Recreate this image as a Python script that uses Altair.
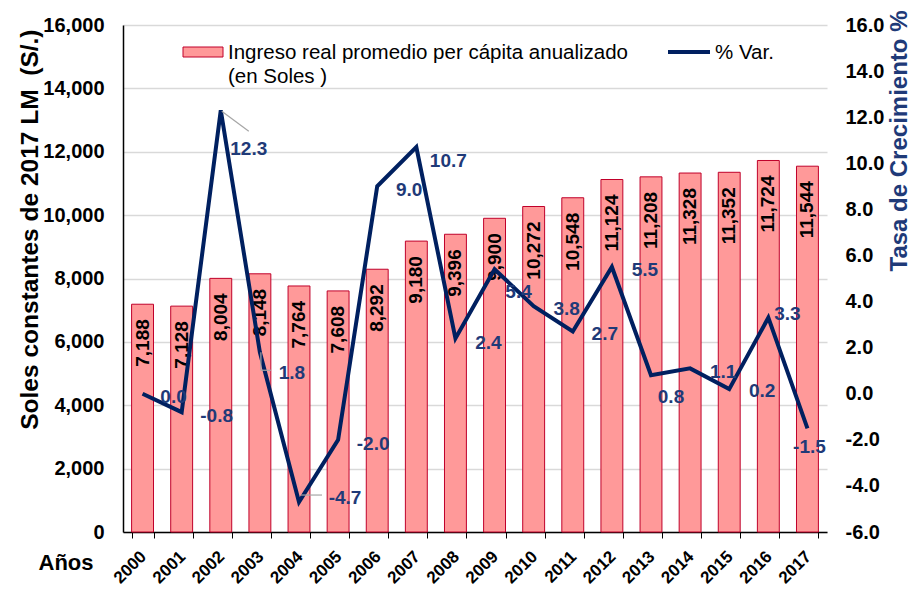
import altair as alt
import pandas as pd

# ---------------- data ----------------
years = [str(y) for y in range(2000, 2018)]
ingreso = [7188, 7128, 8004, 8148, 7764, 7608, 8292, 9180, 9396, 9900,
           10272, 10548, 11124, 11208, 11328, 11352, 11724, 11544]
variacion = [0.0, -0.8, 12.3, 1.8, -4.7, -2.0, 9.0, 10.7, 2.4, 5.4,
             3.8, 2.7, 5.5, 0.8, 1.1, 0.2, 3.3, -1.5]

# label placement (pixel offsets of the % labels from their points)
lbl_dx = [31, 35, 28, 32, 46, 35, 32, 32, 33, 24, 33, 32, 33, 20, 33, 33, 19, 2]
lbl_dy = [3, 4, 39, 21, -4, 4, 4, 14, 5, 23, 3, 2, 3, 22, 4, 2, -4, 19]

# leader lines: (year, x0, y0, x1, y1) pixel offsets from the point
leaders = [("2002", 1, 1, 28, 21), ("2003", 1, 0, 1, 18), ("2003", 1, 18, 11, 18),
           ("2004", 2, -7, 23, -7)]

FONT = "Liberation Sans"
NAVY = "#002060"
LBL_NAVY = "#1F3A78"
BAR_FILL = "#FF9999"
BAR_STROKE = "#C0002A"

df = pd.DataFrame({"year": years, "ingreso": ingreso, "var": variacion})
df["ing_lbl"] = [f"{v:,}" for v in ingreso]
df["var_lbl"] = [f"{v:.1f}" for v in variacion]

x = alt.X("year:O", sort=years,
          scale=alt.Scale(paddingInner=0.44, paddingOuter=0.22),
          axis=alt.Axis(title=None, labelAngle=-45, labelAlign="right",
                        labelBaseline="top", tickBand="extent", ticks=True,
                        tickSize=6, tickColor="black", domainColor="black",
                        domainWidth=1.5, labelFont=FONT, labelFontSize=17,
                        labelFontWeight="bold", labelColor="black", grid=False,
                        labelPadding=10, labelOffset=-5))

y_left = alt.Y("ingreso:Q",
               scale=alt.Scale(domain=[0, 16000], nice=False),
               axis=alt.Axis(title="Soles constantes de 2017 LM\u00a0\u00a0(S/.)",
                             values=list(range(0, 16001, 2000)), format=",d",
                             labelFont=FONT, labelFontSize=20, labelFontWeight="bold",
                             labelColor="black", ticks=False, domain=True,
                             domainColor="black", domainWidth=1.5, labelPadding=19,
                             grid=True, gridColor="#D9D9D9", gridWidth=1.5,
                             titleFont=FONT, titleFontSize=24.5, titleFontWeight="bold",
                             titleColor="black", titleAngle=270, titleAlign="right",
                             titleBaseline="middle", titleX=-93, titleY=4))

y_right = alt.Y("var:Q",
                scale=alt.Scale(domain=[-6, 16], nice=False, zero=False),
                axis=alt.Axis(orient="right", title="Tasa de Crecimiento %",
                              values=list(range(-6, 17, 2)), format=".1f",
                              labelExpr="replace(datum.label, '\u2212', '-')",
                              labelFont=FONT, labelFontSize=20, labelFontWeight="bold",
                              labelColor="black", ticks=False, domain=False,
                              labelPadding=18, grid=False,
                              titleFont=FONT, titleFontSize=24, titleFontWeight="bold",
                              titleColor=LBL_NAVY, titleAngle=270, titleAlign="right",
                              titleBaseline="middle", titleX=72, titleY=-15))

base = alt.Chart(df)

bars = base.mark_bar(color=BAR_FILL, stroke=BAR_STROKE, strokeWidth=1).encode(x=x, y=y_left)
bar_txt = base.mark_text(angle=270, align="right", baseline="middle", dx=-15,
                         font=FONT, fontSize=19, fontWeight="bold",
                         color="black").encode(x=x, y=y_left, text="ing_lbl:N")
bar_group = alt.layer(bars, bar_txt)

line = base.mark_line(color=NAVY, strokeWidth=4).encode(x=x, y=y_right)
line_layers = [line]
for (yr, x0, y0, x1, y1) in leaders:
    line_layers.append(
        base.transform_filter(alt.datum.year == yr)
        .mark_rule(color="#A6A6A6", strokeWidth=1.2, xOffset=x0, yOffset=y0,
                   x2Offset=x1, y2Offset=y1)
        .encode(x=x, y=y_right, x2=alt.X2("year"), y2=alt.Y2("var"))
    )
for i, yr in enumerate(years):
    line_layers.append(
        base.transform_filter(alt.datum.year == yr)
        .mark_text(dx=lbl_dx[i], dy=lbl_dy[i], align="center", baseline="middle",
                   font=FONT, fontSize=19, fontWeight="bold", color=LBL_NAVY)
        .encode(x=x, y=y_right, text="var_lbl:N")
    )
line_group = alt.layer(*line_layers)

# ---------------- legend & extra text ----------------
one = alt.Chart(pd.DataFrame({"a": [0]}))
leg_rect = one.mark_rect(color=BAR_FILL, stroke=BAR_STROKE, strokeWidth=1).encode(
    x=alt.value(60), x2=alt.value(100), y=alt.value(22), y2=alt.value(32))
leg_t1 = one.mark_text(align="left", baseline="middle", font=FONT, fontSize=20.5,
                       color="black").encode(
    x=alt.value(105), y=alt.value(28),
    text=alt.value("Ingreso real promedio per cápita anualizado"))
leg_t2 = one.mark_text(align="left", baseline="middle", font=FONT, fontSize=20.5,
                       color="black").encode(
    x=alt.value(105), y=alt.value(52), text=alt.value("(en Soles )"))
leg_line = one.mark_rule(color=NAVY, strokeWidth=4).encode(
    x=alt.value(545), x2=alt.value(587), y=alt.value(27))
leg_t3 = one.mark_text(align="left", baseline="middle", font=FONT, fontSize=20.5,
                       color="black").encode(
    x=alt.value(592), y=alt.value(28), text=alt.value("% Var."))
anios = one.mark_text(align="center", baseline="middle", font=FONT, fontSize=22,
                      fontWeight="bold", color="black").encode(
    x=alt.value(-57), y=alt.value(538), text=alt.value("Años"))
deco = alt.layer(leg_rect, leg_t1, leg_t2, leg_line, leg_t3, anios)

chart = (
    alt.layer(bar_group, line_group, deco)
    .resolve_scale(y="independent")
    .properties(width=704, height=507,
                padding={"left": 115, "top": 17, "right": 85, "bottom": 57},
                autosize=alt.AutoSizeParams(type="none"),
                background="white")
    .configure_view(stroke=None)
)

chart.save("out.html", embed_options={"renderer": "svg", "actions": False})
